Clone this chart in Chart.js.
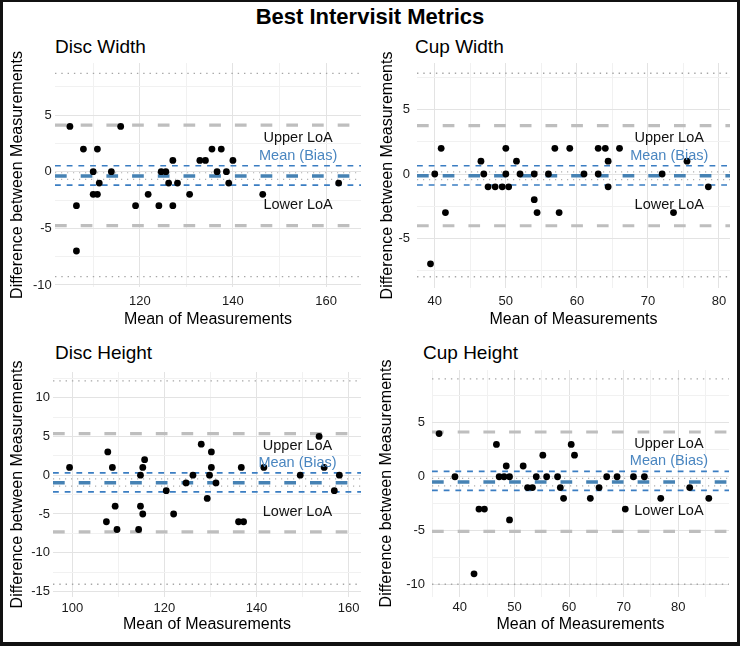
<!DOCTYPE html>
<html>
<head>
<meta charset="utf-8">
<script src="https://cdn.jsdelivr.net/npm/chart.js@4.4.1/dist/chart.umd.min.js"></script>
<style>
  html, body { margin: 0; padding: 0; background: #fff; }
  #page { position: relative; width: 740px; height: 646px; overflow: hidden; font-family: "Liberation Sans", Arial, sans-serif; }
  #frame { position: absolute; left: 0; top: 0; width: 740px; height: 646px; box-sizing: border-box;
           border: 3px solid #111; border-top-width: 2px; border-bottom-width: 4px; pointer-events: none; }
  .main-title { position: absolute; left: 0; width: 740px; top: 6px; text-align: center; font-weight: bold; font-size: 22px; line-height: 22px; color: #000; }
  .panel-title { position: absolute; font-size: 19px; line-height: 19px; color: #000; white-space: nowrap; }
  canvas { position: absolute; }
</style>
</head>
<body>
<div id="page">
  <div class="main-title">Best Intervisit Metrics</div>
  <div class="panel-title" style="left:55px; top:37px;">Disc Width</div>
  <div class="panel-title" style="left:415px; top:37px;">Cup Width</div>
  <div class="panel-title" style="left:55px; top:343px;">Disc Height</div>
  <div class="panel-title" style="left:423px; top:343px;">Cup Height</div>
  <canvas id="discWidth" width="362" height="285" style="left:3px; top:45px;"></canvas>
  <canvas id="cupWidth" width="367" height="285" style="left:370px; top:45px;"></canvas>
  <canvas id="discHeight" width="362" height="292" style="left:3px; top:350px;"></canvas>
  <canvas id="cupHeight" width="367" height="292" style="left:370px; top:350px;"></canvas>
  <div id="frame"></div>
</div>
<script>
const labelTexts = ['Upper LoA', 'Mean (Bias)', 'Lower LoA'];

// Disc Width
const discWidthMean = [105, 115.9, 107.9, 110.9, 106.4, 106.4, 110, 110, 110.9, 111.3, 113.9, 119.1, 121.8, 124.1, 124.6, 125.6,
  126.2, 127.1, 127.1, 128.1, 130.7, 132.9, 134.1, 135.5, 136.6, 137.5, 138.6, 139.1, 140, 146.4, 162.7];
const discWidthDiff = [4, 4, 2, 2, -3, -7, 0, -2, -2, -1, 0, -3, -2, -3, 0, 0,
  -1, 1, -3, -1, -2, 1, 1, 2, 0, 2, 0, -1, 1, -2, -1];
const discWidthLoA = [4.12, -4.76];
const discWidthLoALimits = [8.68, -9.26];
const discWidthBias = [-0.38];
const discWidthBiasCI = [0.53, -1.18];
const discWidthBiasBand = [-0.09, -0.67];
const discWidthLabelX = 154;
const discWidthLabelY = [2.95, 1.39, -2.94];
const discWidthXRange = [101.8, 167.5];
const discWidthYRange = [-10.18, 9.6];
const discWidthXGrid = [110, 120, 130, 140, 150, 160];
const discWidthXTicks = [120, 140, 160];
const discWidthYGrid = [7.5, 5, 2.5, 0, -2.5, -5, -7.5, -10];
const discWidthYTicks = [5, 0, -5, -10];

// Cup Width
const cupWidthMean = [40, 40.9, 39.4, 41.5, 46.5, 46.9, 47.5, 48.5, 49.5, 50, 50, 50.4, 51.5, 52, 54, 54,
  54.4, 56, 56.9, 57.5, 59, 61, 63, 63, 64, 64.4, 64.4, 66, 72, 73.6, 75.5, 78.5];
const cupWidthDiff = [0, 2, -7, -3, 1, 0, -1, -1, -1, 2, 0, -1, 1, 0, 0, -2,
  -3, 0, 2, -3, 2, 0, 2, 0, 2, 1, -1, 2, 0, -3, 1, -1];
const cupWidthLoA = [3.77, -4.03];
const cupWidthLoALimits = [7.85, -8.0];
const cupWidthBias = [-0.13];
const cupWidthBiasCI = [0.65, -0.86];
const cupWidthBiasBand = [0.17, -0.43];
const cupWidthLabelX = 73;
const cupWidthLabelY = [2.78, 1.43, -2.42];
const cupWidthXRange = [37.5, 81.55];
const cupWidthYRange = [-8.88, 8.65];
const cupWidthXGrid = [40, 45, 50, 55, 60, 65, 70, 75, 80];
const cupWidthXTicks = [40, 50, 60, 70, 80];
const cupWidthYGrid = [7.5, 5, 2.5, 0, -2.5, -5, -7.5];
const cupWidthYTicks = [5, 0, -5];

// Disc Height
const discHeightMean = [99.4, 107.7, 108.7, 107.4, 109.3, 109.7, 114.4, 114.8, 114.8, 115.3, 115.7, 115.3, 120.4, 122, 124.7, 126.2,
  128, 129.3, 129.8, 130.2, 130.2, 131.2, 136.1, 137.2, 136.7, 141.6, 149.5, 153.6, 154.7, 156.9, 158];
const discHeightDiff = [1, 3, 1, -6, -4, -7, -7, -4, 0, 1, 2, -5, -2, -5, -1, 0,
  4, -3, 0, 3, 1, -1, -6, -6, 1, 1, 0, 5, 1, -2, 0];
const discHeightLoA = [5.37, -7.3];
const discHeightLoALimits = [12.15, -14.05];
const discHeightBias = [-0.99];
const discHeightBiasCI = [0.3, -2.15];
const discHeightBiasBand = [-0.48, -1.42];
const discHeightLabelX = 148.9;
const discHeightLabelY = [3.73, 1.63, -4.8];
const discHeightXRange = [95.8, 162.7];
const discHeightYRange = [-15.7, 13.3];
const discHeightXGrid = [100, 110, 120, 130, 140, 150, 160];
const discHeightXTicks = [100, 120, 140, 160];
const discHeightYGrid = [12.5, 10, 7.5, 5, 2.5, 0, -2.5, -5, -7.5, -10, -12.5, -15];
const discHeightYTicks = [10, 5, 0, -5, -10, -15];

// Cup Height
const cupHeightMean = [36.2, 39.1, 42.6, 43.5, 44.5, 46.7, 47.2, 48.1, 48.5, 49.1, 49.1, 51.6, 52.4, 53.3, 54, 55.2,
  55.9, 57.9, 58.4, 59, 60.4, 61, 63.9, 65.5, 66.9, 68.8, 70.3, 71.8, 73.8, 76.8, 82.1, 85.6];
const cupHeightDiff = [4, 0, -9, -3, -3, 3, 0, 0, 1, 0, -4, 1, -1, -1, 0, 2,
  0, 0, -1, -2, 3, 2, -2, -1, 0, 0, -3, 0, 0, -2, -1, -2];
const cupHeightLoA = [4.15, -5.07];
const cupHeightLoALimits = [9.08, -9.97];
const cupHeightBias = [-0.48];
const cupHeightBiasCI = [0.5, -1.26];
const cupHeightBiasBand = [-0.15, -0.85];
const cupHeightLabelX = 78.3;
const cupHeightLabelY = [3.0, 1.43, -3.2];
const cupHeightXRange = [34.9, 89.3];
const cupHeightYRange = [-11.15, 9.9];
const cupHeightXGrid = [35, 40, 45, 50, 55, 60, 65, 70, 75, 80, 85];
const cupHeightXTicks = [40, 50, 60, 70, 80];
const cupHeightYGrid = [7.5, 5, 2.5, 0, -2.5, -5, -7.5, -10];
const cupHeightYTicks = [5, 0, -5, -10];

const FONT = '"Liberation Sans", Arial, sans-serif';
const lineStyles = {
  limit: { borderColor: '#a6a6a6', borderWidth: 1.4, borderDash: [1.4, 4.9] },
  loa: { borderColor: '#bebebe', borderWidth: 3.2, borderDash: [11.7, 14] },
  band: { borderColor: '#b0b0b0', borderWidth: 1.2, borderDash: [1.2, 4.8] },
  bias: { borderColor: '#4682b4', borderWidth: 3.5, borderDash: [11.7, 14] },
  biasCI: { borderColor: '#3a7dc2', borderWidth: 1.6, borderDash: [5.8, 5.9] }
};

const loaText = {
  id: 'loaText',
  afterDatasetsDraw(chart, args, opts) {
    const { ctx, scales: { x, y } } = chart;
    ctx.save();
    ctx.font = '14.5px ' + FONT;
    ctx.textAlign = 'center';
    ctx.textBaseline = 'middle';
    opts.ys.forEach((v, i) => {
      ctx.fillStyle = i === 1 ? '#4a86c0' : '#111';
      ctx.fillText(labelTexts[i], x.getPixelForValue(opts.x), y.getPixelForValue(v));
    });
    ctx.restore();
  }
};

function hlines(values, xr, style) {
  return values.map(v => Object.assign({
    data: [{ x: xr[0], y: v }, { x: xr[1], y: v }],
    showLine: true, pointRadius: 0, fill: false
  }, style));
}

function makePanel(id, p) {
  const points = p.mean.map((m, i) => ({ x: m, y: p.diff[i] }));
  const datasets = [{
    data: points, pointRadius: 3.4, pointBackgroundColor: '#000', pointBorderWidth: 0, showLine: false
  }]
    .concat(hlines(p.biasCI, p.xRange, lineStyles.biasCI))
    .concat(hlines(p.bias, p.xRange, lineStyles.bias))
    .concat(hlines(p.band, p.xRange, lineStyles.band))
    .concat(hlines(p.loa, p.xRange, lineStyles.loa))
    .concat(hlines(p.limits, p.xRange, lineStyles.limit));

  return new Chart(document.getElementById(id), {
    type: 'scatter',
    data: { datasets },
    plugins: [loaText],
    options: {
      responsive: false,
      animation: false,
      events: [],
      devicePixelRatio: 1,
      layout: { padding: { top: p.padTop, right: p.padRight, left: 0, bottom: 0 } },
      plugins: {
        legend: { display: false },
        tooltip: { enabled: false },
        loaText: { x: p.labelX, ys: p.labelY }
      },
      scales: {
        x: {
          type: 'linear',
          min: p.xRange[0], max: p.xRange[1],
          afterBuildTicks: s => { s.ticks = p.xGrid.map(v => ({ value: v })); },
          afterFit: s => { s.height = p.xHeight; s.paddingLeft = 0; s.paddingRight = 0; },
          ticks: {
            autoSkip: false, maxRotation: 0, padding: p.xTickPad,
            font: { family: FONT, size: 13 }, color: '#1a1a1a',
            callback: v => p.xTicks.includes(v) ? String(v) : ''
          },
          grid: {
            drawTicks: false, lineWidth: 1,
            color: c => (c.tick && p.xTicks.includes(c.tick.value)) ? '#e3e3e3' : '#f1f1f1'
          },
          border: { display: false },
          title: {
            display: true, text: 'Mean of Measurements', color: '#000',
            font: { family: FONT, size: 16 }, padding: { top: 0, bottom: p.xTitlePad }
          }
        },
        y: {
          type: 'linear',
          min: p.yRange[0], max: p.yRange[1],
          afterBuildTicks: s => { s.ticks = p.yGrid.map(v => ({ value: v })); },
          afterFit: s => { s.width = p.yWidth; s.paddingTop = 0; s.paddingBottom = 0; },
          ticks: {
            autoSkip: false, padding: p.yTickPad,
            font: { family: FONT, size: 13 }, color: '#1a1a1a',
            callback: v => p.yTicks.includes(v) ? String(v) : ''
          },
          grid: {
            drawTicks: false, lineWidth: 1,
            color: c => (c.tick && p.yTicks.includes(c.tick.value)) ? '#e3e3e3' : '#f1f1f1'
          },
          border: { display: false },
          title: {
            display: true, text: 'Difference between Measurements', color: '#000',
            font: { family: FONT, size: 16 }, padding: { top: p.yTitlePad, bottom: 0 }
          }
        }
      }
    }
  });
}

makePanel('discWidth', {
  mean: discWidthMean, diff: discWidthDiff, loa: discWidthLoA, limits: discWidthLoALimits,
  bias: discWidthBias, biasCI: discWidthBiasCI, band: discWidthBiasBand,
  labelX: discWidthLabelX, labelY: discWidthLabelY,
  xRange: discWidthXRange, yRange: discWidthYRange,
  xGrid: discWidthXGrid, xTicks: discWidthXTicks, yGrid: discWidthYGrid, yTicks: discWidthYTicks,
  padTop: 18, padRight: 0, yWidth: 52, xHeight: 43, yTickPad: 3.3, xTickPad: 6.9, yTitlePad: 5.4, xTitlePad: 0.4
});

makePanel('cupWidth', {
  mean: cupWidthMean, diff: cupWidthDiff, loa: cupWidthLoA, limits: cupWidthLoALimits,
  bias: cupWidthBias, biasCI: cupWidthBiasCI, band: cupWidthBiasBand,
  labelX: cupWidthLabelX, labelY: cupWidthLabelY,
  xRange: cupWidthXRange, yRange: cupWidthYRange,
  xGrid: cupWidthXGrid, xTicks: cupWidthXTicks, yGrid: cupWidthYGrid, yTicks: cupWidthYTicks,
  padTop: 18, padRight: 7, yWidth: 47, xHeight: 42, yTickPad: 7, xTickPad: 5.9, yTitlePad: 8.4, xTitlePad: 0.4
});

makePanel('discHeight', {
  mean: discHeightMean, diff: discHeightDiff, loa: discHeightLoA, limits: discHeightLoALimits,
  bias: discHeightBias, biasCI: discHeightBiasCI, band: discHeightBiasBand,
  labelX: discHeightLabelX, labelY: discHeightLabelY,
  xRange: discHeightXRange, yRange: discHeightYRange,
  xGrid: discHeightXGrid, xTicks: discHeightXTicks, yGrid: discHeightYGrid, yTicks: discHeightYTicks,
  padTop: 22, padRight: 0, yWidth: 50, xHeight: 45, yTickPad: 3, xTickPad: 3.5, yTitlePad: 5.4, xTitlePad: 7.4
});

makePanel('cupHeight', {
  mean: cupHeightMean, diff: cupHeightDiff, loa: cupHeightLoA, limits: cupHeightLoALimits,
  bias: cupHeightBias, biasCI: cupHeightBiasCI, band: cupHeightBiasBand,
  labelX: cupHeightLabelX, labelY: cupHeightLabelY,
  xRange: cupHeightXRange, yRange: cupHeightYRange,
  xGrid: cupHeightXGrid, xTicks: cupHeightXTicks, yGrid: cupHeightYGrid, yTicks: cupHeightYTicks,
  padTop: 20, padRight: 8, yWidth: 62, xHeight: 45, yTickPad: 7, xTickPad: 2.5, yTitlePad: 7.1, xTitlePad: 7.4
});
</script>
</body>
</html>
